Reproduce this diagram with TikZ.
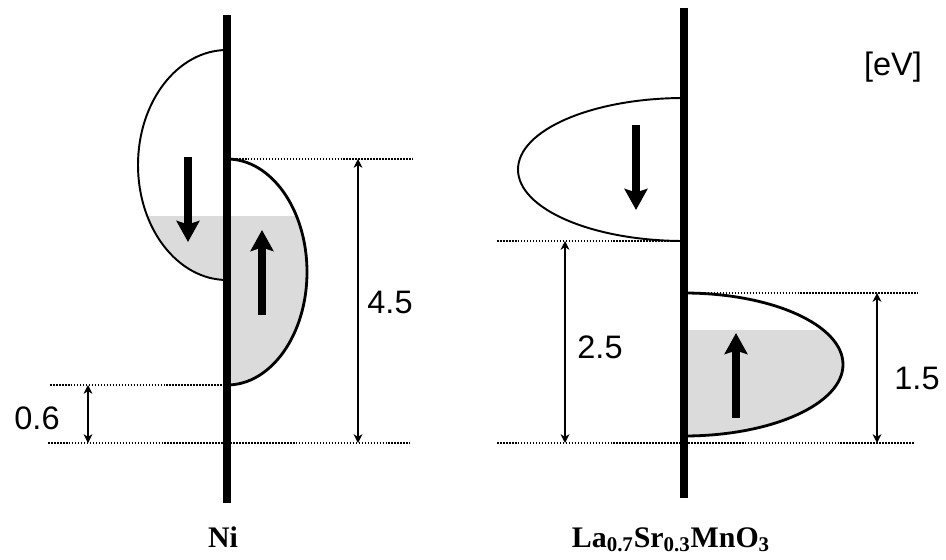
\documentclass[tikz,border=0pt]{standalone}
\usepackage{fontspec}
\setmainfont{Liberation Serif}
\newfontfamily\arialfont{Liberation Sans}
\usetikzlibrary{arrows.meta}

\begin{document}
\begin{tikzpicture}[x=0.02cm, y=0.02cm,
		>={Stealth[length=5pt, width=5pt, inset=1.5pt]},
		axisbar/.style={line width=5pt},
		lobeline/.style={line width=1.1pt},
		spinarrow/.style={line width=4pt, -{Stealth[length=12pt, width=13pt, inset=2pt]}},
		levelline/.style={line width=1.1pt, dash pattern=on 0.9pt off 0.8pt},
		dimarrow/.style={<->, line width=0.7pt},
		numlabel/.style={font=\arialfont\fontsize{18.5}{20}\selectfont},
		namelabel/.style={font=\bfseries\fontsize{17}{20}\selectfont, anchor=base}]
	\useasboundingbox (0,0) rectangle (946,559);
	
	% 填充的态 (底层)
	\begin{scope}
		\clip (0,0) rectangle (946,343);
		\fill[black!14] (227,509) arc[start angle=90, end angle=270, x radius=89, y radius=115] -- cycle;
		\fill[black!14] (227,400) arc[start angle=90, end angle=-90, x radius=80, y radius=113] -- cycle;
	\end{scope}
	\begin{scope}
		\clip (0,0) rectangle (946,229);
		\fill[black!14] (684,266) arc[start angle=90, end angle=-90, x radius=159, y radius=71.5] -- cycle;
	\end{scope}
	
	% 能级虚线
	\coordinate (niTopL) at (227,400);  \coordinate (niTopR) at (413,400);
	\coordinate (niMidL) at (50,174);   \coordinate (niMidR) at (227,174);
	\coordinate (niBotL) at (48,116);   \coordinate (niBotR) at (410,116);
	\coordinate (lsDnL) at (497,318);   \coordinate (lsDnR) at (684,318);
	\coordinate (lsUpL) at (684,266);   \coordinate (lsUpR) at (917,266);
	\coordinate (lsBotL) at (497,116);  \coordinate (lsBotR) at (915,116);
	\draw[levelline] (niTopL) -- (niTopR);
	\draw[levelline] (niMidL) -- (niMidR);
	\draw[levelline] (niBotL) -- (niBotR);
	\draw[levelline] (lsDnL) -- (lsDnR);
	\draw[levelline] (lsUpL) -- (lsUpR);
	\draw[levelline] (lsBotL) -- (lsBotR);
	
	% 左图：Ni
	\draw[lobeline] (227,509) arc[start angle=90, end angle=270, x radius=89, y radius=115];
	\draw[lobeline, line width=1.6pt] (227,400) arc[start angle=90, end angle=-90, x radius=80, y radius=113];
	\coordinate (niAxT) at (227,544);
	\coordinate (niAxB) at (227,56);
	\draw[axisbar] (niAxT) -- (niAxB);
	\coordinate (niDnA) at (188,402);  \coordinate (niDnB) at (188,317);
	\coordinate (niUpA) at (262,244);  \coordinate (niUpB) at (262,329);
	\draw[spinarrow] (niDnA) -- (niDnB);
	\draw[spinarrow] (niUpA) -- (niUpB);
	
	\coordinate (dimAT) at (358,400);  \coordinate (dimAB) at (358,116);
	\coordinate (dimBT) at (88,174);   \coordinate (dimBB) at (88,116);
	\draw[dimarrow] (dimAT) -- (dimAB);
	\draw[dimarrow] (dimBT) -- (dimBB);
	\node[numlabel] (valA) at (390,257) {4.5};
	\node[numlabel] (valB) at (37,141) {0.6};
	\node[namelabel] (nameNi) at (223,12) {Ni};
	
	% 右图：La0.7Sr0.3MnO3
	\draw[lobeline] (684,461) arc[start angle=90, end angle=270, x radius=166, y radius=71.5];
	\draw[lobeline, line width=1.6pt] (684,266) arc[start angle=90, end angle=-90, x radius=159, y radius=71.5];
	\coordinate (lsAxT) at (684,551);
	\coordinate (lsAxB) at (684,61);
	\draw[axisbar] (lsAxT) -- (lsAxB);
	\coordinate (lsDnA) at (636,434);  \coordinate (lsDnB) at (636,349);
	\coordinate (lsUpA) at (736,141);  \coordinate (lsUpB) at (736,226);
	\draw[spinarrow] (lsDnA) -- (lsDnB);
	\draw[spinarrow] (lsUpA) -- (lsUpB);
	
	\coordinate (dimCT) at (565,318);  \coordinate (dimCB) at (565,116);
	\coordinate (dimDT) at (877,266);  \coordinate (dimDB) at (877,116);
	\draw[dimarrow] (dimCT) -- (dimCB);
	\draw[dimarrow] (dimDT) -- (dimDB);
	\node[numlabel] (valC) at (600,212) {2.5};
	\node[numlabel] (valD) at (917,181) {1.5};
	\node[numlabel] (unit) at (893,492) {[eV]};
	\node[namelabel] (nameLs) at (671,12) {La\textsubscript{0.7}Sr\textsubscript{0.3}MnO\textsubscript{3}};
\end{tikzpicture}
\end{document}
